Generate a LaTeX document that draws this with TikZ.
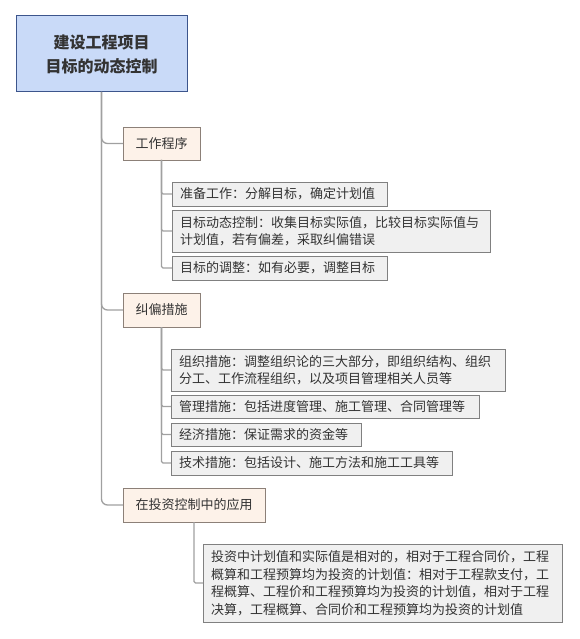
\documentclass[tikz,border=0pt]{standalone}
\usepackage{fontspec}
\newfontfamily\cjk{Noto Sans CJK SC}
\usepackage{tikz}
\usetikzlibrary{positioning,calc}
\definecolor{rootfill}{RGB}{201,218,248}
\definecolor{rootline}{RGB}{60,85,140}
\definecolor{branchfill}{RGB}{253,242,233}
\definecolor{branchline}{RGB}{140,128,120}
\definecolor{leaffill}{RGB}{240,240,240}
\definecolor{leafline}{RGB}{128,128,128}
\definecolor{linkcol}{RGB}{160,160,160}
\definecolor{txt}{RGB}{51,51,51}

\begin{document}
\begin{tikzpicture}[
                  x=1pt,y=-1pt,
                  font=\cjk\fontsize{13}{17.5}\selectfont,
                  text=txt,
                  rootbox/.style={draw=rootline,fill=rootfill,line width=1pt,align=center,anchor=north west,outer sep=0pt,inner sep=0pt,font=\cjk\bfseries\fontsize{16}{24}\selectfont},
                  branchbox/.style={draw=branchline,fill=branchfill,line width=0.9pt,align=left,anchor=north west,outer sep=0pt,inner xsep=12pt,inner ysep=0pt},
                  leaf/.style={draw=leafline,fill=leaffill,line width=0.9pt,align=left,anchor=north west,outer sep=0pt,inner xsep=8pt,inner ysep=0pt},
                  link/.style={draw=linkcol,line width=1.3pt,rounded corners=6pt},
                  sublink/.style={draw=linkcol,line width=1.3pt,rounded corners=1.5pt}
                ]
                \useasboundingbox[fill=white] (0,0) rectangle (579,639);
                \node[rootbox,minimum width=171pt,minimum height=76pt] (root) at (16,16) {建设工程项目\\目标的动态控制};
                
                \node[branchbox,minimum width=77pt,minimum height=33pt] (prog) at (123,127) {工作程序};
                \node[leaf,text width=199pt,minimum height=24pt] (prog1) at (172,182) {准备工作：分解目标，确定计划值};
                \node[leaf,text width=302pt,minimum height=42pt] (prog2) at (172,210) {目标动态控制：收集目标实际值，比较目标实际值与\\计划值，若有偏差，采取纠偏错误};
                \node[leaf,text width=199pt,minimum height=24pt] (prog3) at (172,256) {目标的调整：如有必要，调整目标};
                
                \node[branchbox,minimum width=77pt,minimum height=34pt] (fix) at (123,293) {纠偏措施};
                \node[leaf,text width=318pt,minimum height=42pt] (fix1) at (171,349) {组织措施：调整组织论的三大部分，即组织结构、组织\\分工、工作流程组织，以及项目管理相关人员等};
                \node[leaf,text width=292pt,minimum height=23pt] (fix2) at (171,395) {管理措施：包括进度管理、施工管理、合同管理等};
                \node[leaf,text width=174pt,minimum height=23pt] (fix3) at (171,423) {经济措施：保证需求的资金等};
                \node[leaf,text width=265pt,minimum height=24pt] (fix4) at (171,451) {技术措施：包括设计、施工方法和施工工具等};
                
                \node[branchbox,minimum width=142pt,minimum height=34pt] (app) at (123,488) {在投资控制中的应用};
                \node[leaf,text width=343pt,minimum height=78pt] (app1) at (203,544) {投资中计划值和实际值是相对的，相对于工程合同价，工程\\概算和工程预算均为投资的计划值：相对于工程款支付，工\\程概算、工程价和工程预算均为投资的计划值，相对于工程\\决算，工程概算、合同价和工程预算均为投资的计划值};
                
                % main branches
                \draw[link] (root.south) |- (prog.west);
                \draw[link] (root.south) |- (fix.west);
                \draw[link] (root.south) |- (app.west);
                % sub branches
                \foreach \c in {prog1,prog2,prog3} \draw[sublink] (prog.south) |- (\c.west);
                \foreach \c in {fix1,fix2,fix3,fix4} \draw[sublink] (fix.south) |- (\c.west);
                \draw[sublink] (app.south) |- (app1.west);
                \end{tikzpicture}
\end{document}
